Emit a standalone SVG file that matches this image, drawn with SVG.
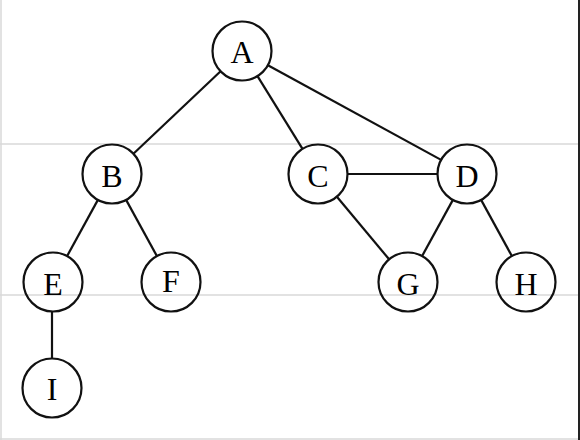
<svg xmlns="http://www.w3.org/2000/svg" width="580" height="440" viewBox="0 0 580 440">
<style>
.bg{stroke:#d9d9d9;stroke-width:1.5;fill:none}
.node circle{fill:none;stroke:#111;stroke-width:2.2}
.node text{font-family:"Liberation Serif","Times New Roman",serif;font-size:32px;fill:#000;text-anchor:middle}
#edges line{stroke:#111;stroke-width:2.2}
</style>
<rect width="580" height="440" fill="#fff"/>
<g id="frame">
<line class="bg" x1="0" y1="144" x2="580" y2="144"/>
<line class="bg" x1="0" y1="295" x2="580" y2="295"/>
<line class="bg" x1="1" y1="0" x2="1" y2="440"/>
<line class="bg" x1="0" y1="439" x2="580" y2="439"/>
<line x1="579" y1="0" x2="579" y2="440" stroke="#222" stroke-width="2"/>
</g>
<g id="edges">
<line x1="220.6" y1="71.3" x2="133.4" y2="153.7"/>
<line x1="257.5" y1="76.1" x2="302.5" y2="148.9"/>
<line x1="267.9" y1="65.2" x2="441.1" y2="159.9"/>
<line x1="347.5" y1="174" x2="437.5" y2="174"/>
<line x1="97.9" y1="199.9" x2="67.1" y2="256.1"/>
<line x1="126.1" y1="199.9" x2="156.9" y2="256.1"/>
<line x1="336.9" y1="196.7" x2="389.1" y2="259.3"/>
<line x1="452.9" y1="199.9" x2="422.1" y2="256.1"/>
<line x1="481.1" y1="199.9" x2="511.9" y2="256.1"/>
<line x1="52" y1="311.5" x2="52" y2="358.5"/>
</g>
<g id="A" class="node"><circle cx="242" cy="51" r="29.5"/><text x="242" y="63">A</text></g>
<g id="B" class="node"><circle cx="112" cy="174" r="29.5"/><text x="112" y="187">B</text></g>
<g id="C" class="node"><circle cx="318" cy="174" r="29.5"/><text x="318" y="187">C</text></g>
<g id="D" class="node"><circle cx="467" cy="174" r="29.5"/><text x="467" y="187">D</text></g>
<g id="E" class="node"><circle cx="53" cy="282" r="29.5"/><text x="53" y="295">E</text></g>
<g id="F" class="node"><circle cx="171" cy="282" r="29.5"/><text x="171" y="292">F</text></g>
<g id="G" class="node"><circle cx="408" cy="282" r="29.5"/><text x="408" y="295">G</text></g>
<g id="H" class="node"><circle cx="526" cy="282" r="29.5"/><text x="526" y="295">H</text></g>
<g id="I" class="node"><circle cx="52" cy="388" r="29.5"/><text x="52" y="400">I</text></g>
</svg>
